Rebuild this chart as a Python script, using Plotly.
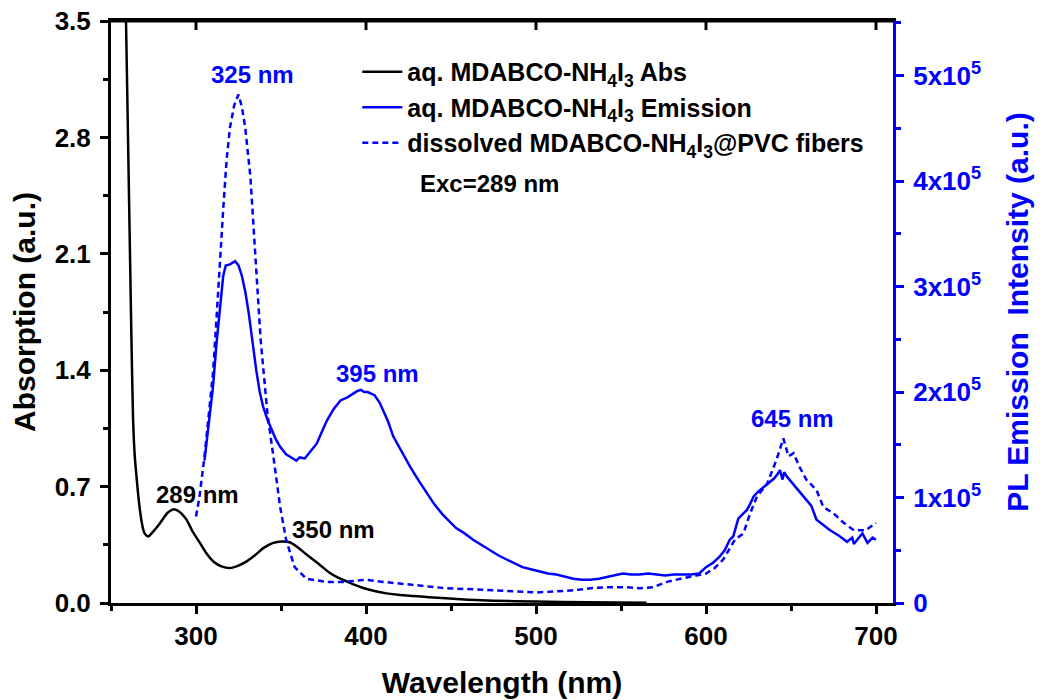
import plotly.graph_objects as go

# ---------------- data ----------------
abs_wl = [257, 258, 259, 260, 261, 262, 263, 264, 265, 266, 267, 268, 269, 270, 272, 274,
          278.8, 283, 286.7, 290, 294.5, 298, 302.4, 306, 310.2, 315, 320, 325, 329.8, 335,
          339.6, 345, 350.4, 355, 359.2, 364, 369, 374, 378.8, 383, 388.6, 393, 398.4, 405,
          412, 420, 428, 437, 447, 460, 475, 500, 530, 565]
abs_val = [4.5, 3.95, 3.4, 2.8, 2.2, 1.6, 1.1, 0.88, 0.76, 0.65, 0.56, 0.49, 0.44, 0.415, 0.40, 0.42,
           0.48, 0.54, 0.563, 0.55, 0.50, 0.43, 0.36, 0.30, 0.25, 0.22, 0.21, 0.225, 0.25, 0.29,
           0.33, 0.36, 0.37, 0.365, 0.34, 0.30, 0.26, 0.22, 0.18, 0.155, 0.13, 0.11, 0.09, 0.072,
           0.058, 0.048, 0.042, 0.035, 0.028, 0.02, 0.014, 0.009, 0.004, 0.002]

em_wl = [305, 308, 310, 312, 314, 316, 317.5, 320, 323, 325, 327, 329, 331, 333, 335.5, 337.5,
         339.5, 342, 344.5, 347, 349.5, 353, 357, 359, 361, 364, 368, 371, 374, 377, 381, 385,
         389, 391, 393, 395, 397, 399, 401, 405, 408, 410, 413, 416, 421, 426, 431, 436, 440,
         445, 453, 458, 463, 468, 473, 478, 483, 488, 492, 497, 502, 507, 512, 517, 522, 527,
         532, 537, 542, 546, 551, 556, 561, 566, 571, 576, 581, 586, 591, 596, 600, 604, 608,
         611, 614, 616, 619, 622, 624, 626, 628, 631, 634, 637, 640, 642, 643.5, 645, 646,
         647.5, 650, 653, 656, 659, 662, 665, 669, 673, 678, 683, 686, 687, 690, 692, 695,
         698, 700]
em_val = [1.35, 1.75, 2.05, 2.45, 2.81, 3.1, 3.2, 3.21, 3.24, 3.2, 3.1, 2.95, 2.75, 2.5, 2.2, 2.0,
          1.86, 1.74, 1.64, 1.55, 1.48, 1.41, 1.37, 1.35, 1.38, 1.37, 1.45, 1.51, 1.62, 1.73, 1.84, 1.92,
          1.95, 1.97, 1.99, 2.01, 2.02, 2.0, 2.0, 1.97, 1.9, 1.83, 1.72, 1.58, 1.43, 1.29, 1.16, 1.04, 0.94,
          0.84, 0.71, 0.66, 0.60, 0.55, 0.50, 0.45, 0.41, 0.37, 0.34, 0.32, 0.30, 0.28, 0.27, 0.25, 0.23, 0.22,
          0.22, 0.23, 0.25, 0.26, 0.28, 0.27, 0.27, 0.28, 0.27, 0.26, 0.27, 0.27, 0.27, 0.28, 0.34, 0.38, 0.44,
          0.50, 0.60, 0.63, 0.80, 0.85, 0.88, 0.94, 1.01, 1.06, 1.10, 1.14, 1.18, 1.22, 1.26, 1.17, 1.24,
          1.2, 1.15, 1.10, 1.04, 0.98, 0.92, 0.79, 0.74, 0.69, 0.64, 0.58, 0.62, 0.56, 0.62, 0.66, 0.57,
          0.62, 0.60]

fib_wl = [300, 302, 305, 308, 310, 312, 314, 316, 318, 320, 322.5, 325, 327, 329, 332, 334, 336,
          338, 340, 342, 345.5, 349.5, 353, 358, 365, 377, 387, 400, 410, 428, 447, 463, 483, 500,
          512, 522, 532, 542, 552, 561, 569, 577, 585, 592, 600, 605, 610, 617, 622, 626, 630, 636,
          641.5, 645.5, 648.5, 651.5, 655, 659, 665, 669, 675, 681, 687, 694, 700]
fib_val = [0.82, 1.0, 1.39, 1.86, 2.18, 2.68, 3.25, 3.73, 4.2, 4.51, 4.72, 4.82, 4.7, 4.5, 4.04, 3.55, 3.05,
           2.5, 2.15, 1.8, 1.39, 0.91, 0.6, 0.34, 0.23, 0.2, 0.2, 0.22, 0.2, 0.17, 0.14, 0.13, 0.11, 0.10,
           0.11, 0.12, 0.14, 0.15, 0.15, 0.14, 0.15, 0.2, 0.23, 0.25, 0.28, 0.33, 0.41, 0.60, 0.66, 0.85, 1.01, 1.13,
           1.36, 1.56, 1.39, 1.42, 1.29, 1.17, 1.07, 0.91, 0.85, 0.76, 0.69, 0.69, 0.76]

em_scale = 1e5
x_ticks = [300, 400, 500, 600, 700]
y_ticks = [0.0, 0.7, 1.4, 2.1, 2.8, 3.5]
y2_ticks = [0, 1e5, 2e5, 3e5, 4e5, 5e5]
y2_text = ["0"] + [f"{i}x10<sup>5</sup>" for i in range(1, 6)]

BLUE = "#0000FF"
FONT = "Liberation Sans, Arial, sans-serif"

fig = go.Figure()
fig.add_trace(go.Scatter(x=abs_wl, y=abs_val, mode="lines",
                         name="aq. MDABCO-NH<sub>4</sub>I<sub>3</sub> Abs",
                         line=dict(color="black", width=2.5, shape="spline", smoothing=0.6)))
fig.add_trace(go.Scatter(x=em_wl, y=[v * em_scale for v in em_val], mode="lines", yaxis="y2",
                         name="aq. MDABCO-NH<sub>4</sub>I<sub>3</sub> Emission",
                         line=dict(color=BLUE, width=2.5)))
fig.add_trace(go.Scatter(x=fib_wl, y=[v * em_scale for v in fib_val], mode="lines", yaxis="y2",
                         name="dissolved MDABCO-NH<sub>4</sub>I<sub>3</sub>@PVC fibers",
                         line=dict(color=BLUE, width=2.5, dash="6px,4px")))

xr = [250, 710]
# page body has an 8px margin: figure sized/margined so the plot area lands at 111..893 x 21..603
fig.update_layout(
    width=1040, height=692,
    margin=dict(l=103, r=155, t=13, b=97, autoexpand=False),
    paper_bgcolor="white", plot_bgcolor="white",
    font=dict(family=FONT, size=24, color="black", weight="bold"),
    showlegend=True,
    legend=dict(x=0.315, y=0.952, xanchor="left", yanchor="top", bgcolor="rgba(0,0,0,0)",
                font=dict(family=FONT, size=25, color="black", weight="bold"),
                tracegroupgap=0, itemwidth=40),
    xaxis=dict(range=xr, tickvals=x_ticks, ticks="outside", ticklen=8, tickwidth=3,
               tickcolor="black", showline=True, linecolor="black", linewidth=3, mirror=True,
               showgrid=False, zeroline=False, automargin=False,
               tickfont=dict(family=FONT, size=26, color="black", weight="bold"),
               ticklabelstandoff=0, ticklabeloverflow="allow",
               minor=dict(dtick=50, tick0=250, ticks="outside", ticklen=5, tickwidth=3, tickcolor="black"),
               title=dict(text="Wavelength (nm)", standoff=22,
                          font=dict(family=FONT, size=30, color="black", weight="bold"))),
    yaxis=dict(range=[0, 3.5], tickvals=y_ticks, ticktext=[f"{v:.1f}" for v in y_ticks],
               ticks="outside", ticklen=8, tickwidth=3, tickcolor="black",
               showline=True, linecolor="black", linewidth=3, showgrid=False, zeroline=False,
               automargin=False, ticklabeloverflow="allow",
               tickfont=dict(family=FONT, size=26, color="black", weight="bold"),
               ticklabelstandoff=4,
               minor=dict(dtick=0.35, tick0=0, ticks="outside", ticklen=5, tickwidth=3, tickcolor="black"),
               title=dict(text="Absorption (a.u.)", standoff=12,
                          font=dict(family=FONT, size=30, color="black", weight="bold"))),
    yaxis2=dict(range=[0, 5.517e5], overlaying="y", side="right", anchor="x",
                tickvals=y2_ticks, ticktext=y2_text, automargin=False, ticklabeloverflow="allow",
                ticks="outside", ticklen=8, tickwidth=3, tickcolor=BLUE,
                showline=True, linecolor=BLUE, linewidth=3, showgrid=False, zeroline=False,
                tickfont=dict(family=FONT, size=26, color=BLUE, weight="bold"),
                ticklabelstandoff=4,
                minor=dict(dtick=0.5e5, tick0=0, ticks="outside", ticklen=5, tickwidth=3, tickcolor=BLUE),
                title=dict(text="PL Emission&nbsp; Intensity (a.u.)", standoff=27,
                           font=dict(family=FONT, size=30, color=BLUE, weight="bold"))),
)

# top frame: a filled black band along the top edge plus inward major ticks
fig.add_shape(type="rect", xref="paper", yref="paper", x0=0, x1=1.0,
              y0=1 - 1.5 / 582, y1=1 + 1.5 / 582,
              fillcolor="black", line=dict(width=0), layer="above")
for t in x_ticks:
    fig.add_shape(type="line", xref="x", yref="paper", x0=t, x1=t, y0=1, y1=1 - 9 / 582,
                  line=dict(color="black", width=3), layer="above")

ann_font_b = dict(family=FONT, size=24, color=BLUE, weight="bold")
ann_font_k = dict(family=FONT, size=24, color="black", weight="bold")
annotations = [
    dict(x=333, y=3.18, text="325 nm", font=ann_font_b),
    dict(x=407, y=1.38, text="395 nm", font=ann_font_b),
    dict(x=651, y=1.11, text="645 nm", font=ann_font_b),
    dict(x=301, y=0.65, text="289 nm", font=ann_font_k),
    dict(x=380.6, y=0.44, text="350 nm", font=ann_font_k),
    dict(x=430.6, y=2.52, text="Exc=289 nm", font=ann_font_k, xanchor="left"),
]
for a in annotations:
    a.setdefault("xanchor", "center")
    fig.add_annotation(xref="x", yref="y", showarrow=False, yanchor="middle", **a)

fig.write_html("out.html")
